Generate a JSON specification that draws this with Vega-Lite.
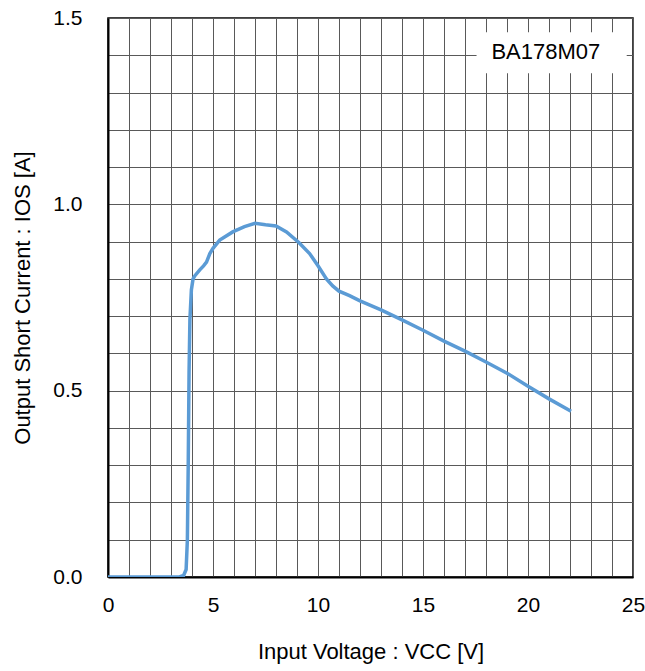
{
  "$schema": "https://vega.github.io/schema/vega-lite/v6.json",
  "width": 525,
  "height": 559,
  "autosize": {"type": "none"},
  "padding": {"left": 108, "top": 18, "right": 12, "bottom": 94},
  "background": "white",
  "config": {
    "view": {"stroke": "black", "strokeWidth": 1.5},
    "font": "Liberation Sans",
    "axis": {"labelFont": "Liberation Sans", "titleFont": "Liberation Sans", "labelColor": "black", "titleColor": "black"}
  },
  "datasets": {
    "curve": [
      {"vcc": 0, "ios": 0}, {"vcc": 1, "ios": 0}, {"vcc": 2, "ios": 0}, {"vcc": 3, "ios": 0},
      {"vcc": 3.4, "ios": 0}, {"vcc": 3.6, "ios": 0.004}, {"vcc": 3.72, "ios": 0.02},
      {"vcc": 3.78, "ios": 0.1}, {"vcc": 3.82, "ios": 0.3}, {"vcc": 3.86, "ios": 0.55},
      {"vcc": 3.9, "ios": 0.69}, {"vcc": 3.97, "ios": 0.77}, {"vcc": 4.05, "ios": 0.8},
      {"vcc": 4.13, "ios": 0.808}, {"vcc": 4.37, "ios": 0.824}, {"vcc": 4.55, "ios": 0.835},
      {"vcc": 4.69, "ios": 0.845}, {"vcc": 4.85, "ios": 0.868}, {"vcc": 5.0, "ios": 0.882},
      {"vcc": 5.32, "ios": 0.904}, {"vcc": 5.94, "ios": 0.926}, {"vcc": 6.5, "ios": 0.94},
      {"vcc": 7.0, "ios": 0.949}, {"vcc": 7.5, "ios": 0.945}, {"vcc": 8.0, "ios": 0.942},
      {"vcc": 8.5, "ios": 0.926}, {"vcc": 9.1, "ios": 0.897}, {"vcc": 9.6, "ios": 0.868},
      {"vcc": 10.0, "ios": 0.835}, {"vcc": 10.4, "ios": 0.8}, {"vcc": 10.7, "ios": 0.781},
      {"vcc": 11.0, "ios": 0.767}, {"vcc": 11.5, "ios": 0.755}, {"vcc": 12.0, "ios": 0.741},
      {"vcc": 13.0, "ios": 0.717}, {"vcc": 14.0, "ios": 0.69}, {"vcc": 15.0, "ios": 0.662},
      {"vcc": 16.0, "ios": 0.633}, {"vcc": 17.0, "ios": 0.606}, {"vcc": 18.0, "ios": 0.577},
      {"vcc": 19.0, "ios": 0.547}, {"vcc": 20.0, "ios": 0.512}, {"vcc": 21.0, "ios": 0.478},
      {"vcc": 22.05, "ios": 0.445}
    ],
    "label": [
      {"x0": 17.55, "x1": 24.7, "y0": 1.352, "y1": 1.462, "tx": 20.85, "ty": 1.41, "text": "BA178M07"}
    ]
  },
  "layer": [
    {
      "data": {"name": "curve"},
      "mark": {"type": "line", "color": "#5B9BD5", "strokeWidth": 3.5, "clip": true},
      "encoding": {
        "x": {
          "field": "vcc", "type": "quantitative",
          "scale": {"domain": [0, 25], "nice": false, "zero": false},
          "axis": {
            "values": [0,1,2,3,4,5,6,7,8,9,10,11,12,13,14,15,16,17,18,19,20,21,22,23,24,25],
            "tickCount": 40,
            "labelExpr": "datum.value % 5 === 0 ? format(datum.value, 'd') : ''",
            "labelOverlap": false,
            "ticks": false, "tickSize": 0,
            "grid": true, "gridColor": "#595959", "gridWidth": 1, "gridOpacity": 1,
            "domainColor": "black", "domainWidth": 2,
            "labelFontSize": 21, "labelPadding": 17, "labelFlush": false,
            "title": "Input Voltage : VCC [V]", "titleFontSize": 22, "titleFontWeight": "normal", "titlePadding": 26
          }
        },
        "y": {
          "field": "ios", "type": "quantitative",
          "scale": {"domain": [0, 1.5], "nice": false, "zero": false},
          "axis": {
            "values": [0,0.1,0.2,0.3,0.4,0.5,0.6,0.7,0.8,0.9,1.0,1.1,1.2,1.3,1.4,1.5],
            "tickCount": 30,
            "labelExpr": "abs(datum.value*2 - round(datum.value*2)) < 0.001 ? format(datum.value, '.1f') : ''",
            "labelOverlap": false,
            "ticks": false, "tickSize": 0,
            "grid": true, "gridColor": "#595959", "gridWidth": 1, "gridOpacity": 1,
            "domainColor": "black", "domainWidth": 2,
            "labelFontSize": 21, "labelPadding": 26, "labelFlush": false,
            "title": "Output Short Current : IOS [A]", "titleFontSize": 22, "titleFontWeight": "normal", "titlePadding": 18
          }
        }
      }
    },
    {
      "data": {"name": "label"},
      "mark": {"type": "rect", "fill": "white", "stroke": null},
      "encoding": {
        "x": {"field": "x0", "type": "quantitative"},
        "x2": {"field": "x1"},
        "y": {"field": "y0", "type": "quantitative"},
        "y2": {"field": "y1"}
      }
    },
    {
      "data": {"name": "label"},
      "mark": {"type": "text", "fontSize": 22, "font": "Liberation Sans", "color": "black", "align": "center", "baseline": "middle"},
      "encoding": {
        "x": {"field": "tx", "type": "quantitative"},
        "y": {"field": "ty", "type": "quantitative"},
        "text": {"field": "text"}
      }
    }
  ]
}
